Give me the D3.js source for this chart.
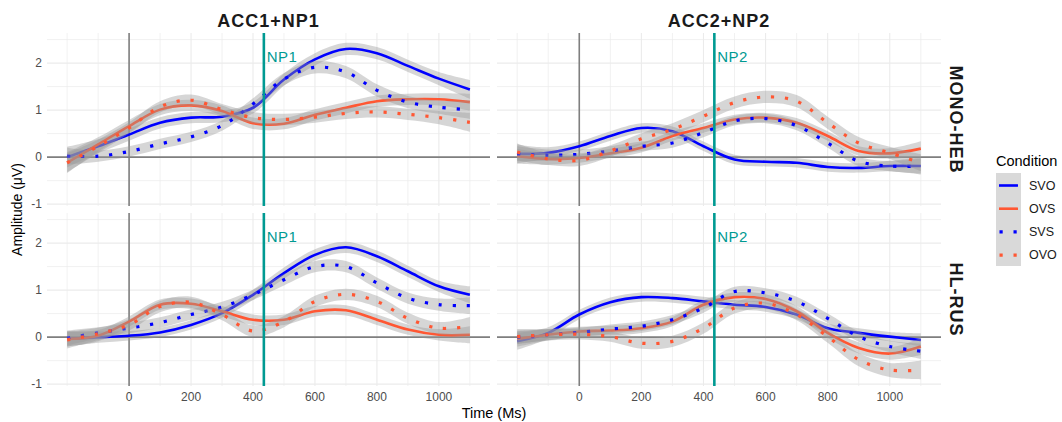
<!DOCTYPE html>
<html>
<head>
<meta charset="utf-8">
<script src="https://cdn.jsdelivr.net/npm/d3@7"></script>
<style>
  body { margin: 0; background: #fff; }
  text { font-family: "Liberation Sans", Arial, sans-serif; }
</style>
</head>
<body>
<div id="chartArea"></div>
<script>
// time points (ms) of the smoothed curves
const times = [-200, -100, 0, 100, 200, 300, 400, 500, 600, 700, 800, 900, 1000, 1100];
const xTicks = [0, 200, 400, 600, 800, 1000];
const yTicks = [-1, 0, 1, 2];
const conditions = ["SVO", "OVS", "SVS", "OVO"];
const colLabels = ["ACC1+NP1", "ACC2+NP2"];
const rowLabels = ["MONO-HEB", "HL-RUS"];
const npLabels = ["NP1", "NP2"];
const npTime = 435;

// MONO-HEB, ACC1+NP1
const monoAcc1SVO = [0.00, 0.23, 0.48, 0.73, 0.84, 0.86, 1.05, 1.65, 2.08, 2.30, 2.21, 1.94, 1.67, 1.44];
const monoAcc1OVS = [-0.12, 0.27, 0.66, 1.01, 1.10, 0.98, 0.72, 0.71, 0.90, 1.05, 1.19, 1.23, 1.23, 1.17];
const monoAcc1SVS = [0.02, 0.02, 0.12, 0.28, 0.43, 0.67, 1.13, 1.66, 1.91, 1.81, 1.42, 1.17, 1.06, 1.01];
const monoAcc1OVO = [-0.12, 0.23, 0.62, 1.07, 1.21, 1.01, 0.84, 0.80, 0.85, 0.93, 0.96, 0.91, 0.84, 0.74];
// MONO-HEB, ACC2+NP2
const monoAcc2SVO = [0.07, 0.09, 0.23, 0.45, 0.62, 0.55, 0.23, -0.05, -0.10, -0.12, -0.21, -0.23, -0.19, -0.19];
const monoAcc2OVS = [0.02, -0.04, -0.02, 0.08, 0.20, 0.45, 0.62, 0.80, 0.84, 0.73, 0.45, 0.13, 0.08, 0.18];
const monoAcc2SVS = [0.07, 0.04, 0.06, 0.13, 0.23, 0.30, 0.52, 0.77, 0.82, 0.67, 0.30, -0.09, -0.19, -0.19];
const monoAcc2OVO = [0.11, -0.04, -0.07, 0.13, 0.39, 0.59, 0.87, 1.16, 1.28, 1.19, 0.73, 0.30, 0.09, -0.12];
// HL-RUS, ACC1+NP1
const rusAcc1SVO = [-0.04, 0.00, 0.03, 0.10, 0.26, 0.51, 0.90, 1.36, 1.75, 1.91, 1.72, 1.40, 1.08, 0.90];
const rusAcc1OVS = [-0.04, 0.03, 0.33, 0.69, 0.71, 0.55, 0.37, 0.37, 0.55, 0.57, 0.37, 0.16, 0.05, 0.05];
const rusAcc1SVS = [-0.02, 0.09, 0.19, 0.31, 0.48, 0.64, 0.90, 1.22, 1.50, 1.50, 1.15, 0.83, 0.69, 0.67];
const rusAcc1OVO = [-0.06, 0.07, 0.26, 0.65, 0.74, 0.48, 0.13, 0.33, 0.76, 0.91, 0.76, 0.40, 0.19, 0.23];
// HL-RUS, ACC2+NP2
const rusAcc2SVO = [-0.09, 0.09, 0.48, 0.74, 0.85, 0.83, 0.76, 0.69, 0.64, 0.48, 0.19, 0.09, 0.01, -0.06];
const rusAcc2OVS = [-0.04, 0.05, 0.12, 0.14, 0.19, 0.33, 0.69, 0.85, 0.81, 0.55, 0.09, -0.23, -0.35, -0.20];
const rusAcc2SVS = [0.00, 0.05, 0.10, 0.17, 0.23, 0.37, 0.62, 0.97, 0.94, 0.76, 0.40, 0.01, -0.20, -0.30];
const rusAcc2OVO = [0.01, 0.05, 0.06, 0.01, -0.13, -0.09, 0.19, 0.62, 0.72, 0.48, 0.01, -0.48, -0.70, -0.70];

// half widths of the grey confidence ribbons
const monoAcc1SVOse = [0.22, 0.15, 0.13, 0.12, 0.12, 0.12, 0.12, 0.13, 0.13, 0.13, 0.13, 0.13, 0.14, 0.20];
const monoAcc1OVSse = [0.22, 0.15, 0.13, 0.12, 0.12, 0.12, 0.12, 0.12, 0.12, 0.12, 0.12, 0.12, 0.13, 0.18];
const monoAcc1SVSse = [0.18, 0.12, 0.11, 0.11, 0.11, 0.11, 0.12, 0.13, 0.13, 0.13, 0.13, 0.13, 0.14, 0.20];
const monoAcc1OVOse = [0.20, 0.14, 0.12, 0.12, 0.12, 0.12, 0.12, 0.12, 0.12, 0.12, 0.12, 0.12, 0.14, 0.20];
const monoAcc2SVOse = [0.20, 0.12, 0.10, 0.10, 0.10, 0.10, 0.10, 0.10, 0.10, 0.10, 0.10, 0.10, 0.11, 0.18];
const monoAcc2OVSse = [0.16, 0.12, 0.10, 0.10, 0.10, 0.10, 0.10, 0.10, 0.10, 0.10, 0.10, 0.10, 0.11, 0.16];
const monoAcc2SVSse = [0.16, 0.12, 0.10, 0.10, 0.10, 0.10, 0.10, 0.10, 0.10, 0.10, 0.10, 0.10, 0.11, 0.16];
const monoAcc2OVOse = [0.18, 0.13, 0.12, 0.12, 0.12, 0.13, 0.13, 0.13, 0.13, 0.13, 0.13, 0.13, 0.13, 0.18];
const rusAcc1SVOse = [0.16, 0.12, 0.10, 0.10, 0.10, 0.10, 0.11, 0.12, 0.12, 0.12, 0.12, 0.12, 0.12, 0.18];
const rusAcc1OVSse = [0.16, 0.12, 0.11, 0.11, 0.11, 0.11, 0.11, 0.11, 0.11, 0.11, 0.11, 0.11, 0.12, 0.18];
const rusAcc1SVSse = [0.16, 0.12, 0.11, 0.11, 0.11, 0.11, 0.11, 0.12, 0.12, 0.12, 0.12, 0.12, 0.13, 0.18];
const rusAcc1OVOse = [0.18, 0.13, 0.12, 0.12, 0.12, 0.12, 0.12, 0.12, 0.12, 0.12, 0.12, 0.12, 0.13, 0.20];
const rusAcc2SVOse = [0.18, 0.12, 0.10, 0.10, 0.10, 0.10, 0.10, 0.10, 0.10, 0.10, 0.10, 0.10, 0.10, 0.14];
const rusAcc2OVSse = [0.16, 0.12, 0.10, 0.10, 0.10, 0.10, 0.10, 0.10, 0.10, 0.11, 0.11, 0.12, 0.13, 0.18];
const rusAcc2SVSse = [0.14, 0.11, 0.10, 0.10, 0.10, 0.10, 0.10, 0.10, 0.10, 0.10, 0.10, 0.11, 0.12, 0.16];
const rusAcc2OVOse = [0.16, 0.12, 0.11, 0.11, 0.12, 0.12, 0.12, 0.12, 0.12, 0.12, 0.13, 0.14, 0.15, 0.20];

const panelSeries = [
    [[monoAcc1SVO, monoAcc1OVS, monoAcc1SVS, monoAcc1OVO], [monoAcc2SVO, monoAcc2OVS, monoAcc2SVS, monoAcc2OVO]],
    [[rusAcc1SVO, rusAcc1OVS, rusAcc1SVS, rusAcc1OVO], [rusAcc2SVO, rusAcc2OVS, rusAcc2SVS, rusAcc2OVO]]
];
const panelSe = [
    [[monoAcc1SVOse, monoAcc1OVSse, monoAcc1SVSse, monoAcc1OVOse], [monoAcc2SVOse, monoAcc2OVSse, monoAcc2SVSse, monoAcc2OVOse]],
    [[rusAcc1SVOse, rusAcc1OVSse, rusAcc1SVSse, rusAcc1OVOse], [rusAcc2SVOse, rusAcc2OVSse, rusAcc2SVSse, rusAcc2OVOse]]
];

const colorMap = { SVO: "#0000FF", OVS: "#FF5733", SVS: "#0000FF", OVO: "#FF5733" };
const dottedMap = { SVO: false, OVS: false, SVS: true, OVO: true };

const W = 1062, H = 422;
const colX = [[47, 490], [497, 941]];
const rowY = [[33, 206], [213, 386]];
const teal = "#009A92";
const refGrey = "#7F7F7F";

const svg = d3.select("#chartArea").append("svg")
    .attr("width", W)
    .attr("height", H);

for (let r = 0; r < 2; r++) {
    for (let c = 0; c < 2; c++) {
        const x = d3.scaleLinear().domain([-265, 1165]).range(colX[c]);
        const y = d3.scaleLinear().domain([-1.04, 2.64]).range([rowY[r][1], rowY[r][0]]);
        const g = svg.append("g");

        // grid: minor and major
        const xGrid = d3.range(-200, 1101, 100);
        const yGrid = d3.range(-1, 2.51, 0.5);
        g.selectAll(".vg").data(xGrid).enter().append("line")
            .attr("x1", d => x(d)).attr("x2", d => x(d))
            .attr("y1", rowY[r][0]).attr("y2", rowY[r][1])
            .attr("stroke", "#EBEBEB")
            .attr("stroke-width", d => xTicks.includes(d) ? 1.1 : 0.7);
        g.selectAll(".hg").data(yGrid).enter().append("line")
            .attr("x1", colX[c][0]).attr("x2", colX[c][1])
            .attr("y1", d => y(d)).attr("y2", d => y(d))
            .attr("stroke", "#EBEBEB")
            .attr("stroke-width", d => yTicks.includes(d) ? 1.1 : 0.7);

        // reference lines at 0
        g.append("line")
            .attr("x1", colX[c][0]).attr("x2", colX[c][1])
            .attr("y1", y(0)).attr("y2", y(0))
            .attr("stroke", refGrey).attr("stroke-width", 1.6);
        g.append("line")
            .attr("x1", x(0)).attr("x2", x(0))
            .attr("y1", rowY[r][0]).attr("y2", rowY[r][1])
            .attr("stroke", refGrey).attr("stroke-width", 1.6);

        // smooths: ribbon then line, per condition
        conditions.forEach((cond, i) => {
            const vals = panelSeries[r][c][i];
            const se = panelSe[r][c][i];
            const pts = times.map((t, k) => ({ t, v: vals[k], se: se[k] }));

            const area = d3.area()
                .x(d => x(d.t))
                .y0(d => y(d.v - d.se))
                .y1(d => y(d.v + d.se))
                .curve(d3.curveCatmullRom.alpha(0.5));
            g.append("path")
                .attr("d", area(pts))
                .attr("fill", "#999999")
                .attr("fill-opacity", 0.4);

            const line = d3.line()
                .x(d => x(d.t))
                .y(d => y(d.v))
                .curve(d3.curveCatmullRom.alpha(0.5));
            g.append("path")
                .attr("d", line(pts))
                .attr("fill", "none")
                .attr("stroke", colorMap[cond])
                .attr("stroke-width", dottedMap[cond] ? 3.2 : 2.6)
                .attr("stroke-dasharray", dottedMap[cond] ? "3.2,10.8" : null);
        });

        // NP marker
        g.append("line")
            .attr("x1", x(npTime)).attr("x2", x(npTime))
            .attr("y1", rowY[r][0]).attr("y2", rowY[r][1])
            .attr("stroke", teal).attr("stroke-width", 2.6);
        g.append("text")
            .attr("x", x(npTime) + 3)
            .attr("y", y(2.02))
            .attr("fill", teal)
            .style("font-size", "15px")
            .style("letter-spacing", "0.4px")
            .text(npLabels[c]);

        // y tick labels on left column
        if (c === 0) {
            g.selectAll(".yt").data(yTicks).enter().append("text")
                .attr("x", 42)
                .attr("y", d => y(d))
                .attr("dy", "0.35em")
                .attr("text-anchor", "end")
                .attr("fill", "#4D4D4D")
                .style("font-size", "12px")
                .text(d => d);
        }
        // x tick labels on bottom row
        if (r === 1) {
            g.selectAll(".xt").data(xTicks).enter().append("text")
                .attr("x", d => x(d))
                .attr("y", 401)
                .attr("text-anchor", "middle")
                .attr("fill", "#4D4D4D")
                .style("font-size", "12px")
                .text(d => d);
        }
    }
}

// strip labels
colLabels.forEach((lab, c) => {
    svg.append("text")
        .attr("x", (colX[c][0] + colX[c][1]) / 2)
        .attr("y", 27)
        .attr("text-anchor", "middle")
        .style("font-size", "18px")
        .style("font-weight", "bold")
        .style("letter-spacing", "1px")
        .attr("fill", "#1A1A1A")
        .text(lab);
});
rowLabels.forEach((lab, r) => {
    const cy = (rowY[r][0] + rowY[r][1]) / 2;
    svg.append("text")
        .attr("transform", `translate(950, ${cy}) rotate(90)`)
        .attr("text-anchor", "middle")
        .style("font-size", "18px")
        .style("font-weight", "bold")
        .style("letter-spacing", "1px")
        .attr("fill", "#1A1A1A")
        .text(lab);
});

// axis titles
svg.append("text")
    .attr("transform", `translate(22, ${(rowY[0][0] + rowY[1][1]) / 2}) rotate(-90)`)
    .attr("text-anchor", "middle")
    .style("font-size", "14px")
    .text("Amplitude (\u03BCV)");
svg.append("text")
    .attr("x", (colX[0][0] + colX[1][1]) / 2)
    .attr("y", 418)
    .attr("text-anchor", "middle")
    .style("font-size", "14.5px")
    .text("Time (Ms)");

// legend
const legend = svg.append("g").attr("transform", "translate(996, 0)");
legend.append("text")
    .attr("x", 0).attr("y", 166)
    .style("font-size", "14.5px")
    .text("Condition");
legend.append("rect")
    .attr("x", 0).attr("y", 173)
    .attr("width", 25).attr("height", 93)
    .attr("fill", "#D9D9D9");
conditions.forEach((cond, i) => {
    const ky = 185.5 + i * 23.2;
    legend.append("line")
        .attr("x1", dottedMap[cond] ? 3.5 : 3).attr("x2", 22)
        .attr("y1", ky).attr("y2", ky)
        .attr("stroke", colorMap[cond])
        .attr("stroke-width", dottedMap[cond] ? 3.2 : 2.6)
        .attr("stroke-dasharray", dottedMap[cond] ? "3.2,10.8" : null);
    legend.append("text")
        .attr("x", 33).attr("y", ky)
        .attr("dy", "0.35em")
        .style("font-size", "12.5px")
        .attr("fill", "#1A1A1A")
        .text(cond);
});
</script>
</body>
</html>
